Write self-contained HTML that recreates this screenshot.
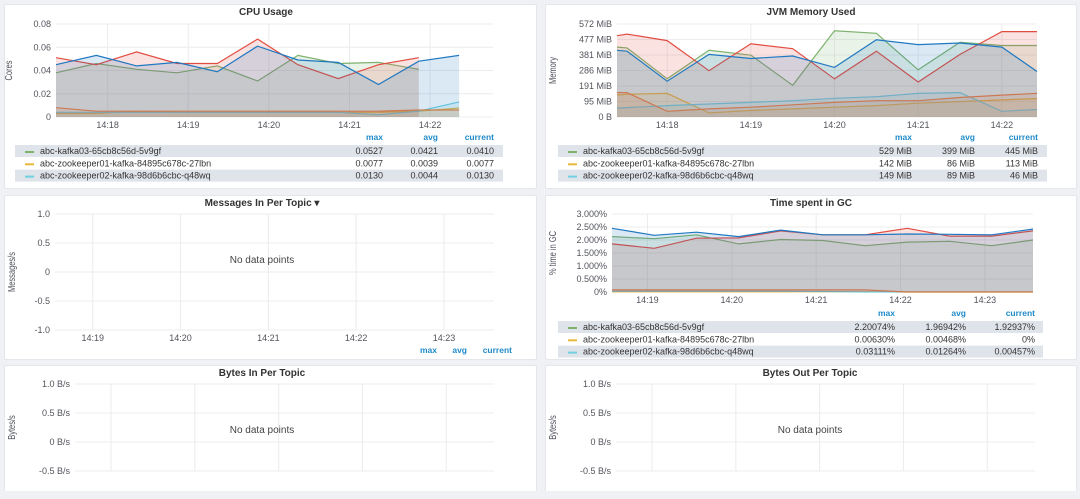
<!DOCTYPE html>
<html><head><meta charset="utf-8">
<style>
body{margin:0;width:1080px;height:499px;background:#f0f1f4;font-family:"Liberation Sans",sans-serif;overflow:hidden;position:relative}
.panel{position:absolute;background:#fff;border:1px solid #e4e6eb;border-radius:2px}
svg{position:absolute;left:0;top:0}
text{font-family:"Liberation Sans",sans-serif}
</style></head><body>
<div class="panel" style="left:4px;top:4px;width:531px;height:183px"></div>
<div class="panel" style="left:545px;top:4px;width:530px;height:183px"></div>
<div class="panel" style="left:4px;top:195px;width:531px;height:163px"></div>
<div class="panel" style="left:545px;top:195px;width:530px;height:163px"></div>
<div class="panel" style="left:4px;top:365px;width:531px;height:126px"></div>
<div class="panel" style="left:545px;top:365px;width:530px;height:126px"></div>
<svg id="s" width="1080" height="499"></svg>
<script>
const seriesNames=["abc-kafka03-65cb8c56d-5v9gf","abc-zookeeper01-kafka-84895c678c-27lbn","abc-zookeeper02-kafka-98d6b6cbc-q48wq"];
const seriesColors=["#7eb26d","#eab839","#6ed0e0","#ef843c","#e24d42","#1f78c1"];
// CPU
const cpuTimes=[17.36,17.86,18.36,18.86,19.36,19.86,20.36,20.86,21.36,21.86,22.36,22.78];
const cpuGreen=[0.038,0.046,0.041,0.038,0.044,0.031,0.053,0.046,0.047,0.041];
const cpuYellow=[0.003,0.003,0.005,0.004,0.004,0.004,0.004,0.004,0.004,0.005,0.0077];
const cpuCyan=[0.004,0.004,0.004,0.004,0.004,0.004,0.004,0.004,0.002,0.005,0.013];
const cpuOrange=[0.008,0.005,0.005,0.005,0.005,0.005,0.005,0.005,0.005,0.006,0.006];
const cpuRed=[0.051,0.045,0.056,0.046,0.046,0.067,0.045,0.033,0.045,0.051];
const cpuBlue=[0.045,0.053,0.044,0.047,0.039,0.061,0.049,0.047,0.028,0.048,0.053];
const cpuTicksY=[0,0.02,0.04,0.06,0.08];
const cpuTickLabelsY=["0","0.02","0.04","0.06","0.08"];
const cpuTicksX=[18,19,20,21,22];
const cpuMax=["0.0527","0.0077","0.0130"],cpuAvg=["0.0421","0.0039","0.0044"],cpuCur=["0.0410","0.0077","0.0130"];
// JVM
const jvmTimes=[17.4,17.52,18.0,18.5,19.0,19.5,20.0,20.5,21.0,21.5,22.0,22.42];
const jvmGreen=[430,425,235,410,380,195,530,515,290,460,440,440];
const jvmYellow=[135,140,145,25,40,50,60,70,85,95,105,113];
const jvmCyan=[55,58,70,80,90,100,115,125,145,150,35,46];
const jvmOrange=[150,150,35,50,60,75,90,100,100,120,135,145];
const jvmRed=[500,510,470,285,450,420,235,405,215,385,525,525];
const jvmBlue=[410,405,220,385,360,375,305,475,445,455,430,280];
const jvmTicksY=[0,95,191,286,381,477,572];
const jvmTickLabelsY=["0 B","95 MiB","191 MiB","286 MiB","381 MiB","477 MiB","572 MiB"];
const jvmMax=["529 MiB","142 MiB","149 MiB"],jvmAvg=["399 MiB","86 MiB","89 MiB"],jvmCur=["445 MiB","113 MiB","46 MiB"];
// GC
const gcTimes=[18.58,19.08,19.58,20.08,20.58,21.08,21.58,22.08,22.58,23.08,23.57];
const gcGreen=[2.13,2.05,2.2,1.85,2.02,1.98,1.78,1.92,1.95,1.78,2.0];
const gcYellow=[0.006,0.006,0.006,0.006,0.006,0.006,0.006,0,0,0,0];
const gcCyan=[0.03,0.03,0.03,0.03,0.03,0.02,0,0,0,0,0];
const gcOrange=[0.08,0.08,0.08,0.08,0.08,0.08,0.08,0,0,0,0];
const gcRed=[1.85,1.68,2.07,2.08,2.35,2.2,2.2,2.45,2.15,2.15,2.35];
const gcBlue=[2.45,2.18,2.3,2.13,2.38,2.2,2.2,2.23,2.22,2.2,2.42];
const gcTicksY=[0,0.5,1,1.5,2,2.5,3];
const gcTickLabelsY=["0%","0.500%","1.000%","1.500%","2.000%","2.500%","3.000%"];
const gcTicksX=[19,20,21,22,23];
const gcMax=["2.20074%","0.00630%","0.03111%"],gcAvg=["1.96942%","0.00468%","0.01264%"],gcCur=["1.92937%","0%","0.00457%"];
// Empty charts
const emptyTicksY=[-1,-0.5,0,0.5,1];
const msgTickLabelsY=["-1.0","-0.5","0","0.5","1.0"];
const bytesTickLabelsY=["-0.5 B/s","0 B/s","0.5 B/s","1.0 B/s"];
const bytesTicksY=[-0.5,0,0.5,1];

const S=document.getElementById('s');const NS='http://www.w3.org/2000/svg';
function el(tag,attrs,txt){const e=document.createElementNS(NS,tag);for(const k in attrs)e.setAttribute(k,attrs[k]);if(txt!==undefined)e.textContent=txt;S.appendChild(e);return e;}
function txt(x,y,s,o){const e=el('text',Object.assign({x:x,y:y,'font-size':9,fill:'#52545c'},o||{}),s);return e;}
function mkScale(d0,d1,r0,r1){return v=>r0+(v-d0)/(d1-d0)*(r1-r0);}
function axes(c){
  const X=mkScale(c.t0,c.t1,c.x0,c.x1),Y=mkScale(c.y0v,c.y1v,c.yb,c.yt);
  c.yTicks.forEach((v,i)=>{const y=Y(v);
    const g=el('line',{x1:c.x0,x2:c.x1,y1:y,y2:y,stroke:'#ececef','stroke-width':1});
    
    const t=txt(c.x0-5,y+3,c.yLabels[i],{'text-anchor':'end'});
    });
  c.xTicks.forEach(v=>{const x=X(v);
    const g=el('line',{x1:x,x2:x,y1:c.yt,y2:c.yb,stroke:'#ececef','stroke-width':1});
    
    if(c.xLab!==false){const t=txt(x,c.yb+11,'14:'+v,{'text-anchor':'middle'});
    }});
  const a=txt(0,0,c.yTitle,{transform:`translate(${c.ytx},${(c.yt+c.yb)/2}) rotate(-90) scale(0.75,1)`,'text-anchor':'middle','font-size':10});
  
  const ti=txt(c.tx,c.ty,c.title,{'text-anchor':'middle','font-size':10,'font-weight':'bold',fill:'#333'});
  
  return [X,Y];
}
function series(X,Y,times,vals,color,c){
  const pts=vals.map((v,i)=>[X(times[i]),Y(v)]);
  const d=pts.map((p,i)=>(i?'L':'M')+p[0].toFixed(1)+','+p[1].toFixed(1)).join('');
  const f=el('path',{d:d+`L${pts[pts.length-1][0]},${c.yb}L${pts[0][0]},${c.yb}Z`,fill:color,'fill-opacity':0.16,stroke:'none'});
  
  const l=el('path',{d:d,fill:'none',stroke:color,'stroke-width':1.2});
  
}
function legend(c,mx,av,cu){
  [['max',c.cMax],['avg',c.cAvg],['current',c.cCur]].forEach(h=>{const t=txt(h[1],c.lh,h[0],{'text-anchor':'end',fill:'#1f8ac9','font-weight':'bold','font-size':8.5});
    });
  for(let i=0;i<3;i++){const y=c.lh+5+i*12.3;
    if(i!==1){const r=el('rect',{x:c.lx,y:y,width:c.lw,height:12,fill:'#dfe3ea'});}
    const sw=el('rect',{x:c.lx+10,y:y+6,width:9,height:2,fill:seriesColors[i]});
    const n=txt(c.lx+25,y+9,seriesNames[i],{fill:'#333'});
    [[c.cMax,mx[i]],[c.cAvg,av[i]],[c.cCur,cu[i]]].forEach(v=>{const t=txt(v[0],y+9,v[1],{'text-anchor':'end',fill:'#333'});});
  }
}
// CPU
let c={t0:17.36,t1:22.78,x0:56,x1:493,y0v:0,y1v:0.08,yb:117,yt:24,yTicks:cpuTicksY,yLabels:cpuTickLabelsY,xTicks:cpuTicksX,yTitle:'Cores',ytx:12,title:'CPU Usage',tx:266,ty:15};
let [X,Y]=axes(c);
[[cpuGreen,0],[cpuYellow,1],[cpuCyan,2],[cpuOrange,3],[cpuRed,4],[cpuBlue,5]].forEach(s=>series(X,Y,cpuTimes,s[0],seriesColors[s[1]],c));
legend({lh:140,lx:15,lw:488,cMax:383,cAvg:438,cCur:494},cpuMax,cpuAvg,cpuCur);
// JVM
c={t0:17.4,t1:22.42,x0:617,x1:1037,y0v:0,y1v:572,yb:117,yt:24,yTicks:jvmTicksY,yLabels:jvmTickLabelsY,xTicks:cpuTicksX,yTitle:'Memory',ytx:556,title:'JVM Memory Used',tx:811,ty:15};
[X,Y]=axes(c);
[[jvmGreen,0],[jvmYellow,1],[jvmCyan,2],[jvmOrange,3],[jvmRed,4],[jvmBlue,5]].forEach(s=>series(X,Y,jvmTimes,s[0],seriesColors[s[1]],c));
legend({lh:140,lx:558,lw:489,cMax:912,cAvg:975,cCur:1038},jvmMax,jvmAvg,jvmCur);
// GC
c={t0:18.58,t1:23.57,x0:612,x1:1033,y0v:0,y1v:3,yb:292,yt:214,yTicks:gcTicksY,yLabels:gcTickLabelsY,xTicks:gcTicksX,yTitle:'% time in GC',ytx:556,title:'Time spent in GC',tx:811,ty:206};
[X,Y]=axes(c);
[[gcGreen,0],[gcYellow,1],[gcCyan,2],[gcOrange,3],[gcRed,4],[gcBlue,5]].forEach(s=>series(X,Y,gcTimes,s[0],seriesColors[s[1]],c));
legend({lh:316,lx:558,lw:485,cMax:895,cAvg:966,cCur:1035},gcMax,gcAvg,gcCur);
// Messages
c={t0:18.57,t1:23.57,x0:55,x1:494,y0v:-1,y1v:1,yb:330,yt:214,yTicks:emptyTicksY,yLabels:msgTickLabelsY,xTicks:gcTicksX,yTitle:'Messages/s',ytx:15,title:'Messages In Per Topic ▾',tx:262,ty:206};
axes(c);
[['max',437],['avg',467],['current',512]].forEach(h=>{const t=txt(h[1],353,h[0],{'text-anchor':'end',fill:'#1f8ac9','font-weight':'bold','font-size':8.5});});
let nd=txt(262,263,'No data points',{'text-anchor':'middle','font-size':10,fill:'#444'});
// Bytes In
c={t0:18.57,t1:23.57,x0:75,x1:494,y0v:-0.5,y1v:1,yb:471,yt:384,yTicks:bytesTicksY,yLabels:bytesTickLabelsY,xTicks:gcTicksX,xLab:false,yTitle:'Bytes/s',ytx:15,title:'Bytes In Per Topic',tx:262,ty:376};
axes(c);
nd=txt(262,433,'No data points',{'text-anchor':'middle','font-size':10,fill:'#444'});
// Bytes Out
c={t0:18.57,t1:23.57,x0:616,x1:1035,y0v:-0.5,y1v:1,yb:471,yt:384,yTicks:bytesTicksY,yLabels:bytesTickLabelsY,xTicks:gcTicksX,xLab:false,yTitle:'Bytes/s',ytx:556,title:'Bytes Out Per Topic',tx:810,ty:376};
axes(c);
nd=txt(810,433,'No data points',{'text-anchor':'middle','font-size':10,fill:'#444'});
const cv=el('rect',{x:0,y:491,width:1080,height:8,fill:'#f0f1f4'});
</script>
</body></html>
